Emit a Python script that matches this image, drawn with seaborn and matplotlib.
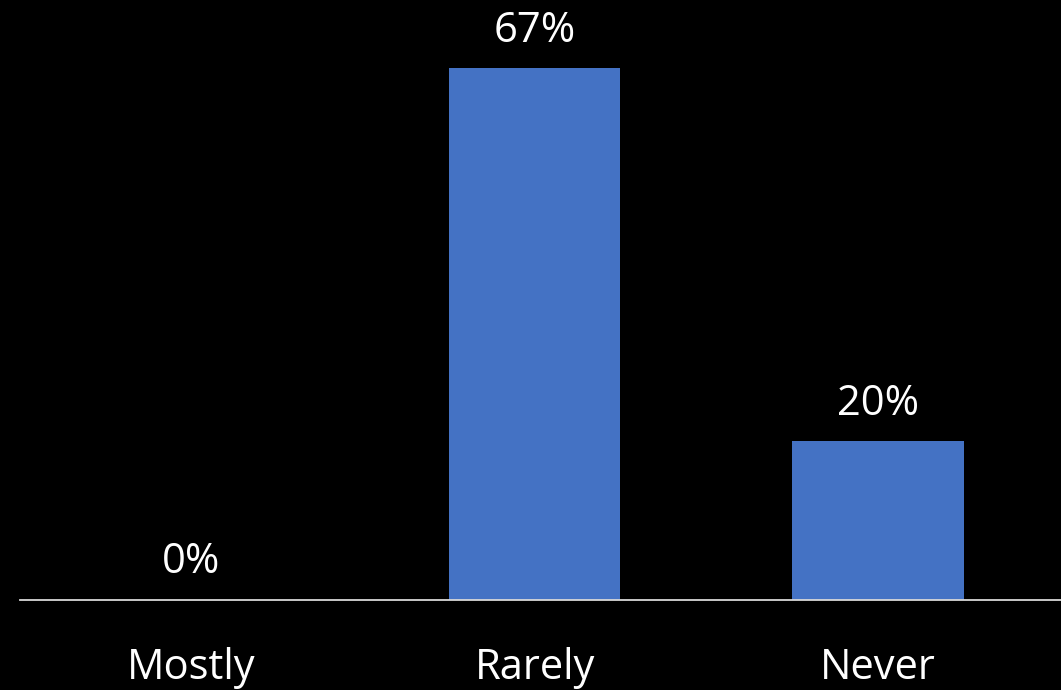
import matplotlib
matplotlib.use("Agg")
import matplotlib.pyplot as plt
import seaborn as sns
import pandas as pd

categories = ["Mostly", "Rarely", "Never"]
shares = [0, 67, 20]
labels = ["0%", "67%", "20%"]

sns.set_theme(style="white")
plt.rcParams["font.family"] = ["Open Sans", "DejaVu Sans"]

df = pd.DataFrame({"category": categories, "share": shares})

fig = plt.figure(figsize=(10.61, 6.9), dpi=100, facecolor="black")
ax = fig.add_axes([20 / 1061, 90 / 690, 1 - 20 / 1061, 600 / 690])
ax.set_facecolor("black")

sns.barplot(data=df, x="category", y="share", color="#4472C4",
            saturation=1, width=0.5, linewidth=0, edgecolor="none", ax=ax)

ax.set_xlim(-0.5, 2.534)
ax.set_ylim(0, 75.6)

for i, (v, txt) in enumerate(zip(shares, labels)):
    ax.annotate(txt, (i, v), xytext=(0, 12), textcoords="offset points",
                ha="center", va="bottom", color="white", fontsize=30)

for side in ["top", "left", "right"]:
    ax.spines[side].set_visible(False)
ax.spines["bottom"].set_color("#d9d9d9")
ax.spines["bottom"].set_linewidth(1.3)

ax.set_yticks([])
ax.set_xlabel("")
ax.set_ylabel("")
ax.tick_params(axis="x", length=0, pad=34, labelsize=30, labelcolor="white")

fig.savefig("out.png", dpi=100, facecolor="black")
